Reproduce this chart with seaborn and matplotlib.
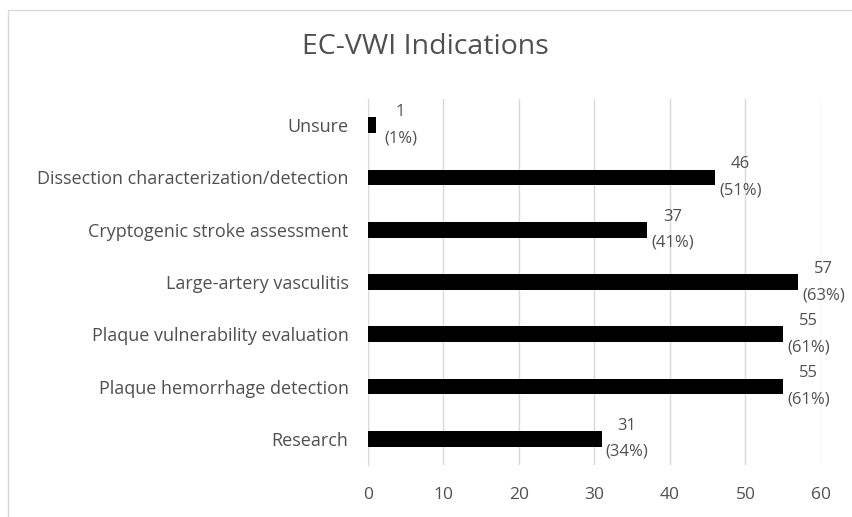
import matplotlib
matplotlib.use('Agg')
import matplotlib.pyplot as plt
import seaborn as sns
import pandas as pd
from matplotlib.patches import Rectangle

# data
indications = ['Unsure', 'Dissection characterization/detection', 'Cryptogenic stroke assessment',
               'Large-artery vasculitis', 'Plaque vulnerability evaluation',
               'Plaque hemorrhage detection', 'Research']
counts = [1, 46, 37, 57, 55, 55, 31]
percents = ['1%', '51%', '41%', '63%', '61%', '61%', '34%']
x_ticks = [0, 10, 20, 30, 40, 50, 60]

df = pd.DataFrame({'indication': indications, 'count': counts, 'pct': percents})

sns.set_style('white')
plt.rcParams['font.family'] = ['Open Sans', 'DejaVu Sans']
grey = '#505050'

fig = plt.figure(figsize=(8.53, 5.17), dpi=100)
ax = fig.add_axes([368 / 853, 1 - 465 / 517, (821 - 368) / 853, 366 / 517])

sns.barplot(data=df, x='count', y='indication', color='black', width=0.3,
            edgecolor='none', ax=ax, zorder=3)

for i, row in df.iterrows():
    ax.annotate(f"{row['count']}\n({row['pct']})", xy=(row['count'], i),
                xytext=(25, 0), textcoords='offset pixels', ha='center', va='center',
                fontsize=12, color=grey, linespacing=1.85)

ax.set_xlim(0, 60)
ax.set_xticks(x_ticks)
ax.grid(axis='x', color='#d9d9d9', linewidth=1, zorder=0)
ax.grid(axis='y', visible=False)
for s in ['top', 'right', 'bottom']:
    ax.spines[s].set_visible(False)
ax.spines['left'].set_color('#d9d9d9')
ax.set_xlabel('')
ax.set_ylabel('')
ax.tick_params(axis='x', labelsize=12.5, colors=grey, length=0, pad=16)
ax.tick_params(axis='y', labelsize=13, colors=grey, length=0, pad=14)

fig.text(425 / 853, 1 - 47 / 517, 'EC-VWI Indications', ha='center', va='center',
         fontsize=20.5, color=grey)

# chart frame
fig.patches.append(Rectangle((8 / 853, -0.1), 1.0, 1 - 10 / 517 + 0.1,
                             transform=fig.transFigure, fill=False,
                             edgecolor='#d9d9d9', linewidth=1))

fig.savefig('out.png', dpi=100)
